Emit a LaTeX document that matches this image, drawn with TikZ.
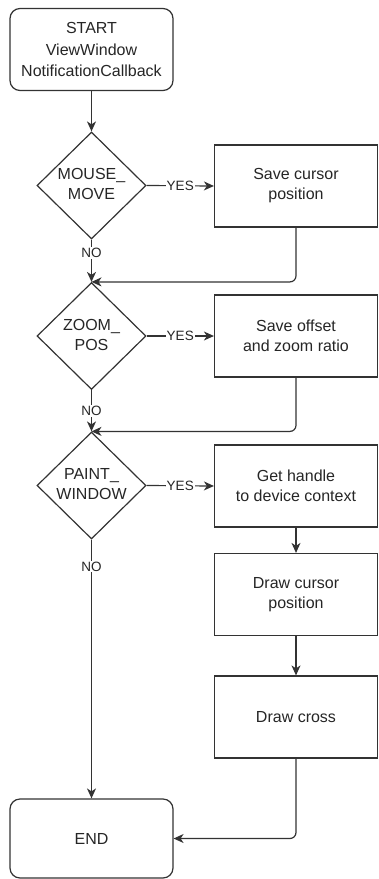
\documentclass[tikz,border=0pt]{standalone}
\usepackage{fontspec}
\setmainfont{Liberation Sans}
\usetikzlibrary{shapes.geometric,arrows.meta}
\begin{document}
\begin{tikzpicture}[x=1pt,y=-1pt,
  line/.style={draw=black!80, line width=1.2pt},
  arr/.style={line, -{Stealth[length=10pt,width=9pt,inset=3pt]}},
  txt/.style={align=center, text=black!85, font=\fontsize{16}{20}\selectfont, inner sep=0pt},
  proc/.style={txt, draw=black!80, line width=1.2pt, rectangle, minimum width=163pt, minimum height=82pt},
  term/.style={proc, rounded corners=10pt},
  dec/.style={draw=black!80, line width=1.2pt, diamond, minimum width=109pt, minimum height=107pt, inner sep=0pt},
  lbl/.style={fill=white, inner sep=1pt, text=black!85, font=\fontsize{13.5}{13.5}\selectfont}
]
\useasboundingbox (0,0) rectangle (379,879);
\fill[white] (0,0) rectangle (379,879);

\node[term, font=\fontsize{16}{21.5}\selectfont] (start) at (91.5,49.5) {START\\ViewWindow\\NotificationCallback};

\node[dec] (d1) at (91.5,185.5) {};
\node[txt] (t1) at (91.5,184) {MOUSE\_\\MOVE};
\node[proc] (b1) at (296,186) {Save cursor\\position};

\node[dec] (d2) at (91.5,336) {};
\node[txt] (t2) at (91.5,334.5) {ZOOM\_\\POS};
\node[proc] (b2) at (296,336) {Save offset\\and zoom ratio};

\node[dec] (d3) at (91.5,485.5) {};
\node[txt] (t3) at (91.5,484) {PAINT\_\\WINDOW};
\node[proc] (b3) at (296,486) {Get handle\\to device context};
\node[proc] (b4) at (296,594.5) {Draw cursor\\position};
\node[proc] (b5) at (296,717) {Draw cross};

\node[term, minimum height=79pt] (end) at (91.5,838.5) {END};

\draw[arr] (start) -- (d1);
\draw[arr] (d1.east) -- node[lbl] {YES} (b1.west);
\draw[arr] (d1.south) -- node[lbl,pos=0.32] {NO} (d2.north);
\draw[arr, rounded corners=6pt] (b1.south) |- (d2.north);

\draw[arr] (d2.east) -- node[lbl] {YES} (b2.west);
\draw[arr] (d2.south) -- node[lbl,pos=0.5] {NO} (d3.north);
\draw[arr, rounded corners=6pt] (b2.south) |- (d3.north);

\draw[arr] (d3.east) -- node[lbl] {YES} (b3.west);
\draw[arr] (d3.south) -- node[lbl,pos=0.104] {NO} (end.north);
\draw[arr] (b3) -- (b4);
\draw[arr] (b4) -- (b5);
\draw[arr, rounded corners=6pt] (b5.south) |- (end.east);
\end{tikzpicture}
\end{document}
